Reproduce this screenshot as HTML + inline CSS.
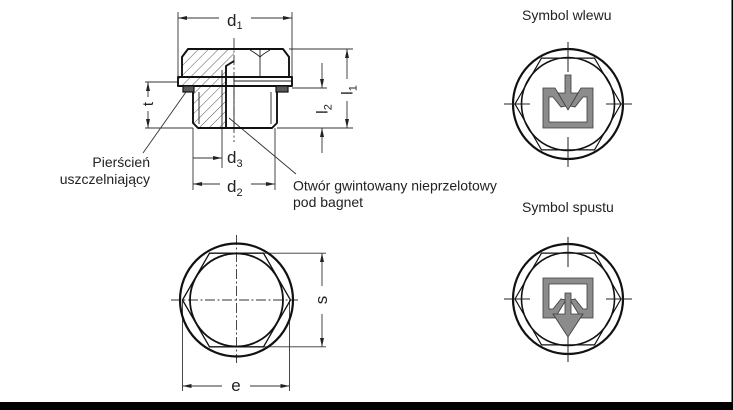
<!DOCTYPE html>
<html><head><meta charset="utf-8">
<style>
html,body{margin:0;padding:0;background:#fff;}
body{width:733px;height:410px;overflow:hidden;}
svg{display:block;}
text{font-family:"Liberation Sans",Arial,sans-serif;fill:#222;}
</style></head>
<body>
<svg width="733" height="410" viewBox="0 0 733 410" xmlns="http://www.w3.org/2000/svg">
<defs>
<pattern id="h" patternUnits="userSpaceOnUse" width="7" height="7" patternTransform="rotate(45)">
<line x1="0" y1="0" x2="0" y2="7" stroke="#444" stroke-width="0.9"/>
</pattern>
</defs>

<!-- ============ SIDE VIEW ============ -->
<!-- hatched section -->
<polygon points="182,57 188,49 234,49 234,60 226,66 226,128 198,128 193,123 193,86 178,86 178,77 182,77" fill="url(#h)"/>

<g fill="none" stroke="#333" stroke-width="0.9">
<!-- d1 -->
<line x1="178" y1="12" x2="178" y2="77"/>
<line x1="292" y1="12" x2="292" y2="77"/>
<line x1="178" y1="18" x2="219" y2="18"/>
<line x1="251" y1="18" x2="292" y2="18"/>
<!-- right extension lines -->
<line x1="289" y1="49" x2="353" y2="49"/>
<line x1="292" y1="88" x2="327" y2="88"/>
<line x1="277" y1="128" x2="353" y2="128"/>
<!-- l1 -->
<line x1="347" y1="49" x2="347" y2="79"/>
<line x1="347" y1="101" x2="347" y2="128"/>
<!-- l2 -->
<line x1="322" y1="63" x2="322" y2="88"/>
<line x1="322" y1="128" x2="322" y2="153"/>
<!-- t -->
<line x1="145" y1="82" x2="178" y2="82"/>
<line x1="145" y1="128" x2="193" y2="128"/>
<line x1="148" y1="82" x2="148" y2="97"/>
<line x1="148" y1="111" x2="148" y2="128"/>
<!-- d3 -->
<line x1="222" y1="128" x2="222" y2="168"/>
<line x1="193" y1="158" x2="222" y2="158"/>
<!-- d2 -->
<line x1="193" y1="128" x2="193" y2="190"/>
<line x1="275" y1="128" x2="275" y2="190"/>
<line x1="193" y1="184" x2="220" y2="184"/>
<line x1="251" y1="184" x2="275" y2="184"/>
<!-- leaders -->
<line x1="186" y1="92" x2="143" y2="153"/>
<line x1="229" y1="118" x2="296" y2="174"/>
<!-- centerline -->
<line x1="234" y1="38" x2="234" y2="142" stroke-dasharray="10 2.5 2 2.5"/>
</g>

<g fill="#222">
<polygon points="178,18 187,16 187,20"/>
<polygon points="292,18 283,16 283,20"/>
<polygon points="347,49 345,58 349,58"/>
<polygon points="347,128 345,119 349,119"/>
<polygon points="322,88 320,79 324,79"/>
<polygon points="322,128 320,137 324,137"/>
<polygon points="148,82 146,91 150,91"/>
<polygon points="148,128 146,119 150,119"/>
<polygon points="222,158 213,156 213,160"/>
<polygon points="193,184 202,182 202,186"/>
<polygon points="275,184 266,182 266,186"/>
</g>

<!-- thin internal lines -->
<g fill="none" stroke="#222" stroke-width="0.9">
<line x1="260" y1="50" x2="260" y2="77"/>
<path d="M250,50 Q257,54 260,57 Q263,54 270,50"/>
<line x1="234" y1="81" x2="292" y2="81"/>
<line x1="234" y1="77" x2="234" y2="128"/>
<line x1="199" y1="92" x2="199" y2="124"/>
<line x1="271" y1="92" x2="271" y2="124"/>
<line x1="222" y1="70" x2="222" y2="128"/>
</g>

<!-- outlines -->
<g fill="none" stroke="#111" stroke-width="1.9" stroke-linejoin="round">
<path d="M182,77 L182,57 L188,49 L283,49 L289,57 L289,77"/>
<path d="M178,77 L292,77 L292,86 L178,86 Z"/>
<path d="M193,86 L193,123 L198,128 L272,128 L277,123 L277,86"/>
<path d="M226,128 L226,66 L234,61"/>
</g>
<!-- seal rings -->
<rect x="183" y="86" width="11" height="6" fill="#5a5a5a" stroke="#111" stroke-width="1.2"/>
<rect x="276" y="86" width="12" height="6" fill="#5a5a5a" stroke="#111" stroke-width="1.2"/>

<!-- side view labels -->
<text x="227" y="26" font-size="17">d<tspan font-size="11" dy="3">1</tspan></text>
<text x="227" y="163" font-size="17">d<tspan font-size="11" dy="4">3</tspan></text>
<text x="227" y="192" font-size="17">d<tspan font-size="11" dy="4">2</tspan></text>
<text transform="translate(352.5,90) rotate(-90)" text-anchor="middle" font-size="16">l<tspan font-size="11" dy="4">1</tspan></text>
<text transform="translate(327.5,109) rotate(-90)" text-anchor="middle" font-size="16">l<tspan font-size="11" dy="4">2</tspan></text>
<text transform="translate(153,104) rotate(-90)" text-anchor="middle" font-size="15">t</text>

<text x="150" y="167" font-size="14" text-anchor="end">Pierścień</text>
<text x="150" y="184" font-size="14" text-anchor="end">uszczelniający</text>
<text x="293" y="190.5" font-size="14">Otwór gwintowany nieprzelotowy</text>
<text x="293" y="207" font-size="14">pod bagnet</text>

<!-- ============ FRONT VIEW ============ -->
<g fill="none" stroke="#333" stroke-width="0.9">
<line x1="171" y1="300" x2="298" y2="300" stroke-dasharray="10 2.5 2 2.5"/>
<line x1="236.5" y1="235" x2="236.5" y2="363" stroke-dasharray="10 2.5 2 2.5"/>
<line x1="264" y1="253.2" x2="326" y2="253.2"/>
<line x1="264" y1="346.8" x2="326" y2="346.8"/>
<line x1="322" y1="253.2" x2="322" y2="286"/>
<line x1="322" y1="314" x2="322" y2="346.8"/>
<line x1="182.5" y1="300" x2="182.5" y2="391"/>
<line x1="289.5" y1="300" x2="289.5" y2="391"/>
<line x1="182.5" y1="386" x2="222" y2="386"/>
<line x1="250" y1="386" x2="289.5" y2="386"/>
</g>
<g fill="#222">
<polygon points="322,253.2 320,262 324,262"/>
<polygon points="322,346.8 320,338 324,338"/>
<polygon points="182.5,386 191.5,384 191.5,388"/>
<polygon points="289.5,386 280.5,384 280.5,388"/>
</g>
<circle cx="236.5" cy="300" r="56.5" fill="none" stroke="#111" stroke-width="2.2"/>
<circle cx="236.5" cy="300" r="46.5" fill="none" stroke="#111" stroke-width="1.8"/>
<polygon points="182.5,300 209.5,253.2 263.5,253.2 290.5,300 263.5,346.8 209.5,346.8" fill="none" stroke="#111" stroke-width="1.3"/>
<text x="236" y="391" font-size="17" text-anchor="middle">e</text>
<text transform="translate(327,300) rotate(-90)" text-anchor="middle" font-size="17">s</text>

<!-- ============ SYMBOL WLEWU ============ -->
<text x="522" y="20" font-size="14">Symbol wlewu</text>
<circle cx="568" cy="104" r="55" fill="none" stroke="#111" stroke-width="2.2"/>
<circle cx="568" cy="104" r="46.5" fill="none" stroke="#111" stroke-width="1.6"/>
<polygon points="515,104 541.5,58.1 594.5,58.1 621,104 594.5,149.9 541.5,149.9" fill="none" stroke="#111" stroke-width="1.2"/>
<g stroke="#222" stroke-width="1">
<line x1="568" y1="42" x2="568" y2="72"/>
<line x1="568" y1="137" x2="568" y2="167"/>
<line x1="504" y1="104" x2="530" y2="104"/>
<line x1="606" y1="104" x2="632" y2="104"/>
</g>
<g fill="#8c8c8c" stroke="#3a3a3a" stroke-width="0.8" stroke-linejoin="miter">
<polygon points="543,88 555,88 566,106 561,107 553,97 549,97 549,122 587,122 587,97 583,97 575,107 570,106 581,88 593,88 593,128 543,128"/>
<polygon points="565,75 571,75 571,93 578,93 568,110 558,93 565,93"/>
</g>

<!-- ============ SYMBOL SPUSTU ============ -->
<text x="522" y="212" font-size="14">Symbol spustu</text>
<circle cx="568" cy="299" r="55" fill="none" stroke="#111" stroke-width="2.2"/>
<circle cx="568" cy="299" r="46.5" fill="none" stroke="#111" stroke-width="1.6"/>
<polygon points="515,299 541.5,253.1 594.5,253.1 621,299 594.5,344.9 541.5,344.9" fill="none" stroke="#111" stroke-width="1.2"/>
<g stroke="#222" stroke-width="1">
<line x1="568" y1="237" x2="568" y2="267"/>
<line x1="568" y1="332" x2="568" y2="362"/>
<line x1="504" y1="299" x2="530" y2="299"/>
<line x1="606" y1="299" x2="632" y2="299"/>
</g>
<g fill="#8c8c8c" stroke="#3a3a3a" stroke-width="0.8" stroke-linejoin="miter">
<polygon points="543,318 555,318 566,300 561,299 553,309 549,309 549,284 587,284 587,309 583,309 575,299 570,300 581,318 593,318 593,278 543,278"/>
<polygon points="565,293 571,293 571,314 583,314 568,337 553,314 565,314"/>
</g>

<!-- frame -->
<rect x="731.5" y="0" width="1.5" height="410" fill="#000"/>
<rect x="0" y="402" width="733" height="8" fill="#000"/>
</svg>
</body></html>
